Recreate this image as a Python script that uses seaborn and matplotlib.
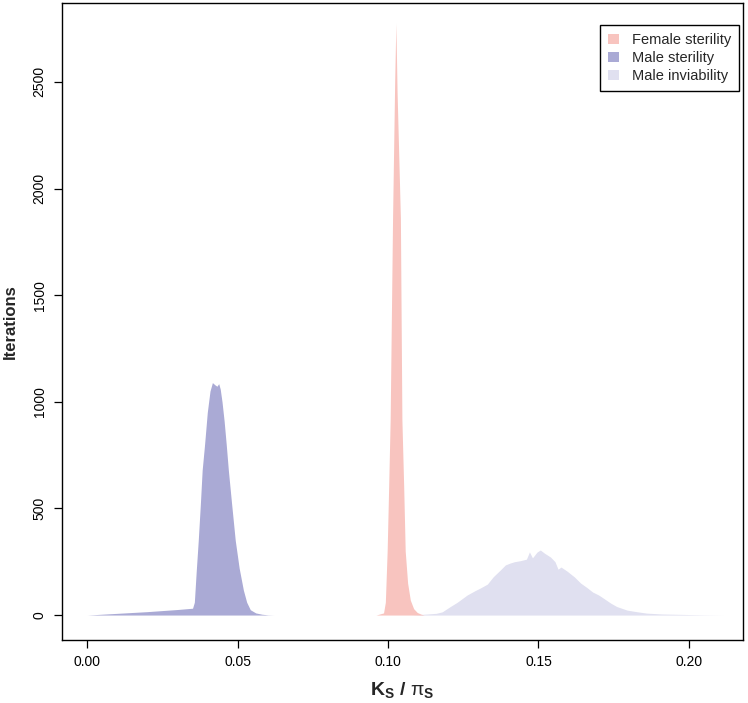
import matplotlib
matplotlib.use("Agg")
import matplotlib.pyplot as plt
from matplotlib.patches import Patch
import seaborn as sns

# posterior of K_S / pi_S, iterations per bin
female_x = [0.0960, 0.0985, 0.0991, 0.0997, 0.1002, 0.1007, 0.1015, 0.1022, 0.1026,
            0.1030, 0.1041, 0.1046, 0.1052, 0.1057, 0.1065, 0.1074, 0.1085, 0.1097,
            0.1110, 0.1120]
female_y = [0, 10, 60, 300, 600, 916, 1862, 2500, 2775,
            2450, 1862, 916, 600, 300, 150, 70, 30, 12,
            4, 0]

male_ster_x = [0.0000, 0.0050, 0.0100, 0.0150, 0.0200, 0.0250, 0.0300, 0.0350, 0.0356,
               0.0362, 0.0369, 0.0376, 0.0382, 0.0390, 0.0399, 0.0408, 0.0416, 0.0424,
               0.0431, 0.0437, 0.0442, 0.0448, 0.0455, 0.0462, 0.0469, 0.0480, 0.0492,
               0.0505, 0.0519, 0.0530, 0.0542, 0.0560, 0.0580, 0.0600, 0.0620]
male_ster_y = [0, 4, 8, 12, 16, 21, 26, 32, 60,
               200, 350, 520, 680, 800, 950, 1050, 1090, 1080,
               1073, 1085, 1060, 1000, 910, 800, 680, 520, 350,
               220, 117, 60, 25, 10, 4, 1, 0]

male_inv_x = [0.1080, 0.1110, 0.1160, 0.1180, 0.1207, 0.1230, 0.1263, 0.1290, 0.1307,
              0.1330, 0.1350, 0.1373, 0.1390, 0.1406, 0.1420, 0.1440, 0.1460, 0.1470,
              0.1480, 0.1495, 0.1506, 0.1520, 0.1540, 0.1555, 0.1565, 0.1575, 0.1596,
              0.1620, 0.1640, 0.1660, 0.1680, 0.1700, 0.1715, 0.1740, 0.1760, 0.1795,
              0.1830, 0.1860, 0.1910, 0.1980, 0.2050, 0.2114]
male_inv_y = [0, 3, 8, 15, 40, 60, 94, 115, 127,
              145, 180, 211, 235, 244, 250, 255, 262, 296,
              268, 295, 305, 290, 272, 250, 215, 225, 205,
              178, 150, 130, 108, 94, 80, 56, 40, 23,
              15, 9, 5, 3, 1, 0]

labels = ["Female sterility", "Male sterility", "Male inviability"]
colors = ["#f8c4bf", "#aaaad5", "#e0e0f0"]

sns.set_style("ticks")
plt.rcParams["font.family"] = ["Liberation Sans", "DejaVu Sans"]
plt.rcParams["mathtext.fontset"] = "custom"
plt.rcParams["mathtext.rm"] = "Liberation Sans"
plt.rcParams["mathtext.it"] = "Liberation Sans:italic"
plt.rcParams["mathtext.bf"] = "Liberation Sans:bold"

fig = plt.figure(figsize=(7.48, 7.03), dpi=100)
ax = fig.add_axes([62 / 748, 1 - 640 / 703, (743 - 62) / 748, (640 - 3) / 703])

ax.fill_between(male_inv_x, male_inv_y, 0, color=colors[2], linewidth=0)
ax.fill_between(male_ster_x, male_ster_y, 0, color=colors[1], linewidth=0)
ax.fill_between(female_x, female_y, 0, color=colors[0], linewidth=0)

ax.set_xlim(-0.0084, 0.2180)
ax.set_ylim(-117, 2870)
ax.set_xticks([0.00, 0.05, 0.10, 0.15, 0.20])
ax.set_xticklabels(["0.00", "0.05", "0.10", "0.15", "0.20"])
ax.set_yticks([0, 500, 1000, 1500, 2000, 2500])
ax.set_yticklabels(["0", "500", "1000", "1500", "2000", "2500"], rotation=90, va="center")

for s in ax.spines.values():
    s.set_visible(True)
    s.set_color("black")
    s.set_linewidth(1.0)
ax.tick_params(direction="out", length=6, width=0.9, labelsize=10, colors="black", pad=5)

ax.set_xlabel(r"$\mathbf{K_S}$ / $\mathrm{\pi}_\mathbf{S}$", fontsize=14, fontweight="bold", labelpad=8)
ax.set_ylabel("Iterations", fontsize=12, fontweight="bold", labelpad=11)

handles = [Patch(facecolor=c, edgecolor="none") for c in colors]
leg = ax.legend(handles, labels, loc="upper right", bbox_to_anchor=(739 / 748, 1 - 25 / 703),
                bbox_transform=fig.transFigure, borderaxespad=0, fontsize=10.5,
                frameon=True, fancybox=False, framealpha=1, edgecolor="black",
                handlelength=0.7, handleheight=0.7, handletextpad=0.9,
                labelspacing=0.28, borderpad=0.55)
leg.get_frame().set_linewidth(1.0)

fig.savefig("out.png", dpi=100)
